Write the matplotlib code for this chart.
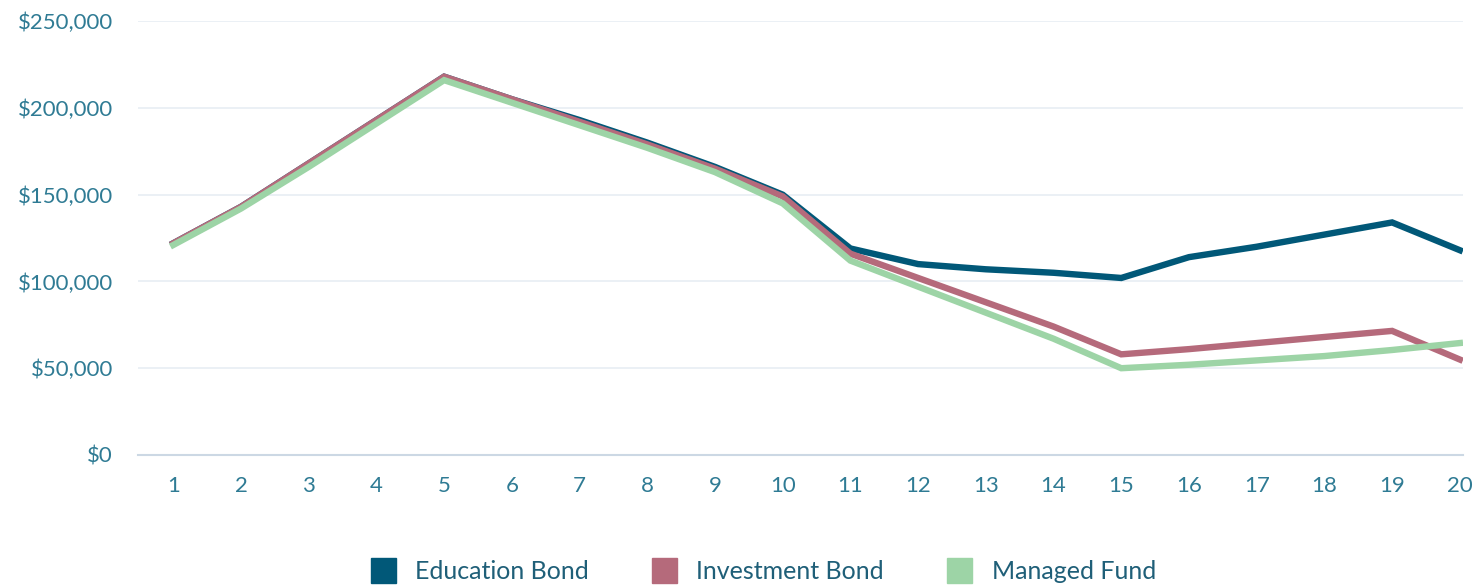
import matplotlib
matplotlib.use("Agg")
import matplotlib.pyplot as plt
from matplotlib.lines import Line2D
from matplotlib.ticker import FuncFormatter

plt.rcParams['font.family'] = ['Lato', 'DejaVu Sans']

years = list(range(1, 21))

education_bond = [122000, 143000, 168000, 193000, 218000, 205000, 193000, 180000, 166000, 150000,
                  119000, 110000, 107000, 105000, 102000, 114000, 120000, 127000, 134000, 118000]
investment_bond = [122000, 143000, 168000, 193000, 218000, 205000, 192000, 179000, 165000, 149000,
                   116000, 102000, 88000, 74000, 58000, 61000, 64500, 68000, 71500, 55000]
managed_fund = [121000, 142000, 166000, 191000, 216000, 203000, 190000, 177000, 163000, 145000,
                112000, 97000, 82000, 67000, 50000, 52000, 54500, 57000, 60500, 64500]

series = [
    ("Education Bond", education_bond, "#015878"),
    ("Investment Bond", investment_bond, "#b56a7b"),
    ("Managed Fund", managed_fund, "#9dd4a6"),
]

label_color = "#2f7b94"

fig = plt.figure(figsize=(14.78, 5.87), dpi=100)
ax = fig.add_axes([0.0934, 0.2249, 0.8966, 0.7391])

# later series drawn on top, like the original stacking
for i, (name, vals, col) in enumerate(series):
    ax.plot(years, vals, color=col, lw=4.6, solid_joinstyle='miter', zorder=3 + i)

ax.set_xlim(0.48, 20.05)
ax.set_ylim(0, 250000)
ax.set_xticks(years)
ax.set_yticks(range(0, 250001, 50000))
ax.yaxis.set_major_formatter(FuncFormatter(lambda v, p: "${:,.0f}".format(v)))

ax.grid(axis='y', color='#e8eef3', lw=1.2)
ax.set_axisbelow(True)
for s in ['top', 'right', 'left']:
    ax.spines[s].set_visible(False)
ax.spines['bottom'].set_color('#ccd8e4')
ax.spines['bottom'].set_linewidth(1.5)

ax.tick_params(axis='both', length=0, colors=label_color, labelsize=16)
ax.tick_params(axis='x', pad=15)
ax.tick_params(axis='y', pad=18)

handles = [Line2D([], [], marker='s', linestyle='none', markersize=18,
                  markerfacecolor=col, markeredgecolor=col) for _, _, col in series]
fig.legend(handles, [n for n, _, _ in series], loc='center', bbox_to_anchor=(0.512, 0.026),
           ncol=3, frameon=False, fontsize=18, labelcolor='#1f5f78',
           columnspacing=2.0, handletextpad=0.3)

fig.savefig("out.png", dpi=100)
